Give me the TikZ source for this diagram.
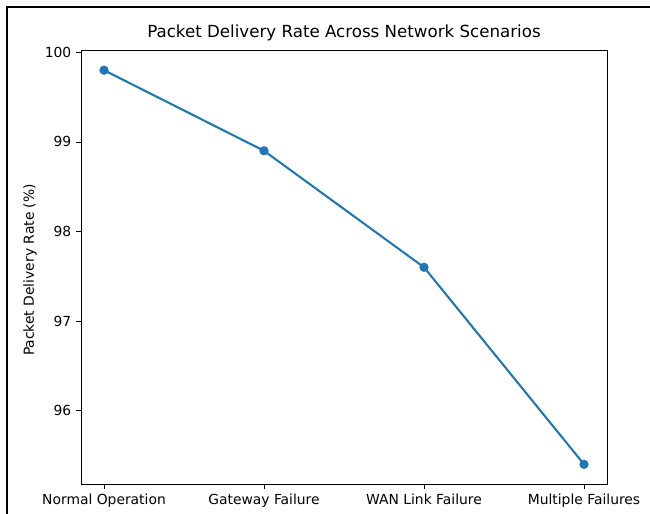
\documentclass[tikz,border=0pt]{standalone}
\usepackage{fontspec}
\setmainfont{DejaVu Sans}
\definecolor{mplblue}{HTML}{1F77B4}
\begin{document}
\begin{tikzpicture}[x=0.75pt,y=-0.75pt,
  tick/.style={line width=0.6pt},
  ticklabel/.style={font=\fontsize{10.4}{12}\selectfont, inner sep=0pt},
  datapt/.style={circle, fill=mplblue, inner sep=0pt, minimum size=7pt},
  series/.style={mplblue, line width=1.56pt}]
\useasboundingbox (0,0) rectangle (650,514);
% screenshot frame
\draw[line width=1.6pt] (7,514) -- (7,7) -- (650,7);
% axes frame
\draw[line width=0.6pt] (81,50.5) rectangle (607,484);
% y ticks
\foreach \v/\y in {100/52.3,99/141.9,98/231.4,97/321.0,96/410.6}{
  \draw[tick] (81,\y) -- (76.1,\y);
  \node[ticklabel, anchor=east] (yl\v) at (71.5,\y) {\v};
}
% x ticks
\foreach \x/\t [count=\i] in {104/Normal Operation,264/Gateway Failure,424/WAN Link Failure,584/Multiple Failures}{
  \draw[tick] (\x,484) -- (\x,488.9);
  \node[ticklabel, anchor=north] (xl\i) at (\x,494) {\vphantom{Ag}\t};
}
% data
\node[datapt] (p1) at (104,70.2) {};
\node[datapt] (p2) at (264,150.8) {};
\node[datapt] (p3) at (424,267.3) {};
\node[datapt] (p4) at (584,464.3) {};
\draw[series] (p1.center) -- (p2.center) -- (p3.center) -- (p4.center);
% labels
\node[font=\fontsize{12.5}{14}\selectfont, inner sep=0pt] (title) at (344,33) {Packet Delivery Rate Across Network Scenarios};
\node[ticklabel, rotate=90] (ylab) at (30,270) {Packet Delivery Rate (\%)};
\end{tikzpicture}
\end{document}
